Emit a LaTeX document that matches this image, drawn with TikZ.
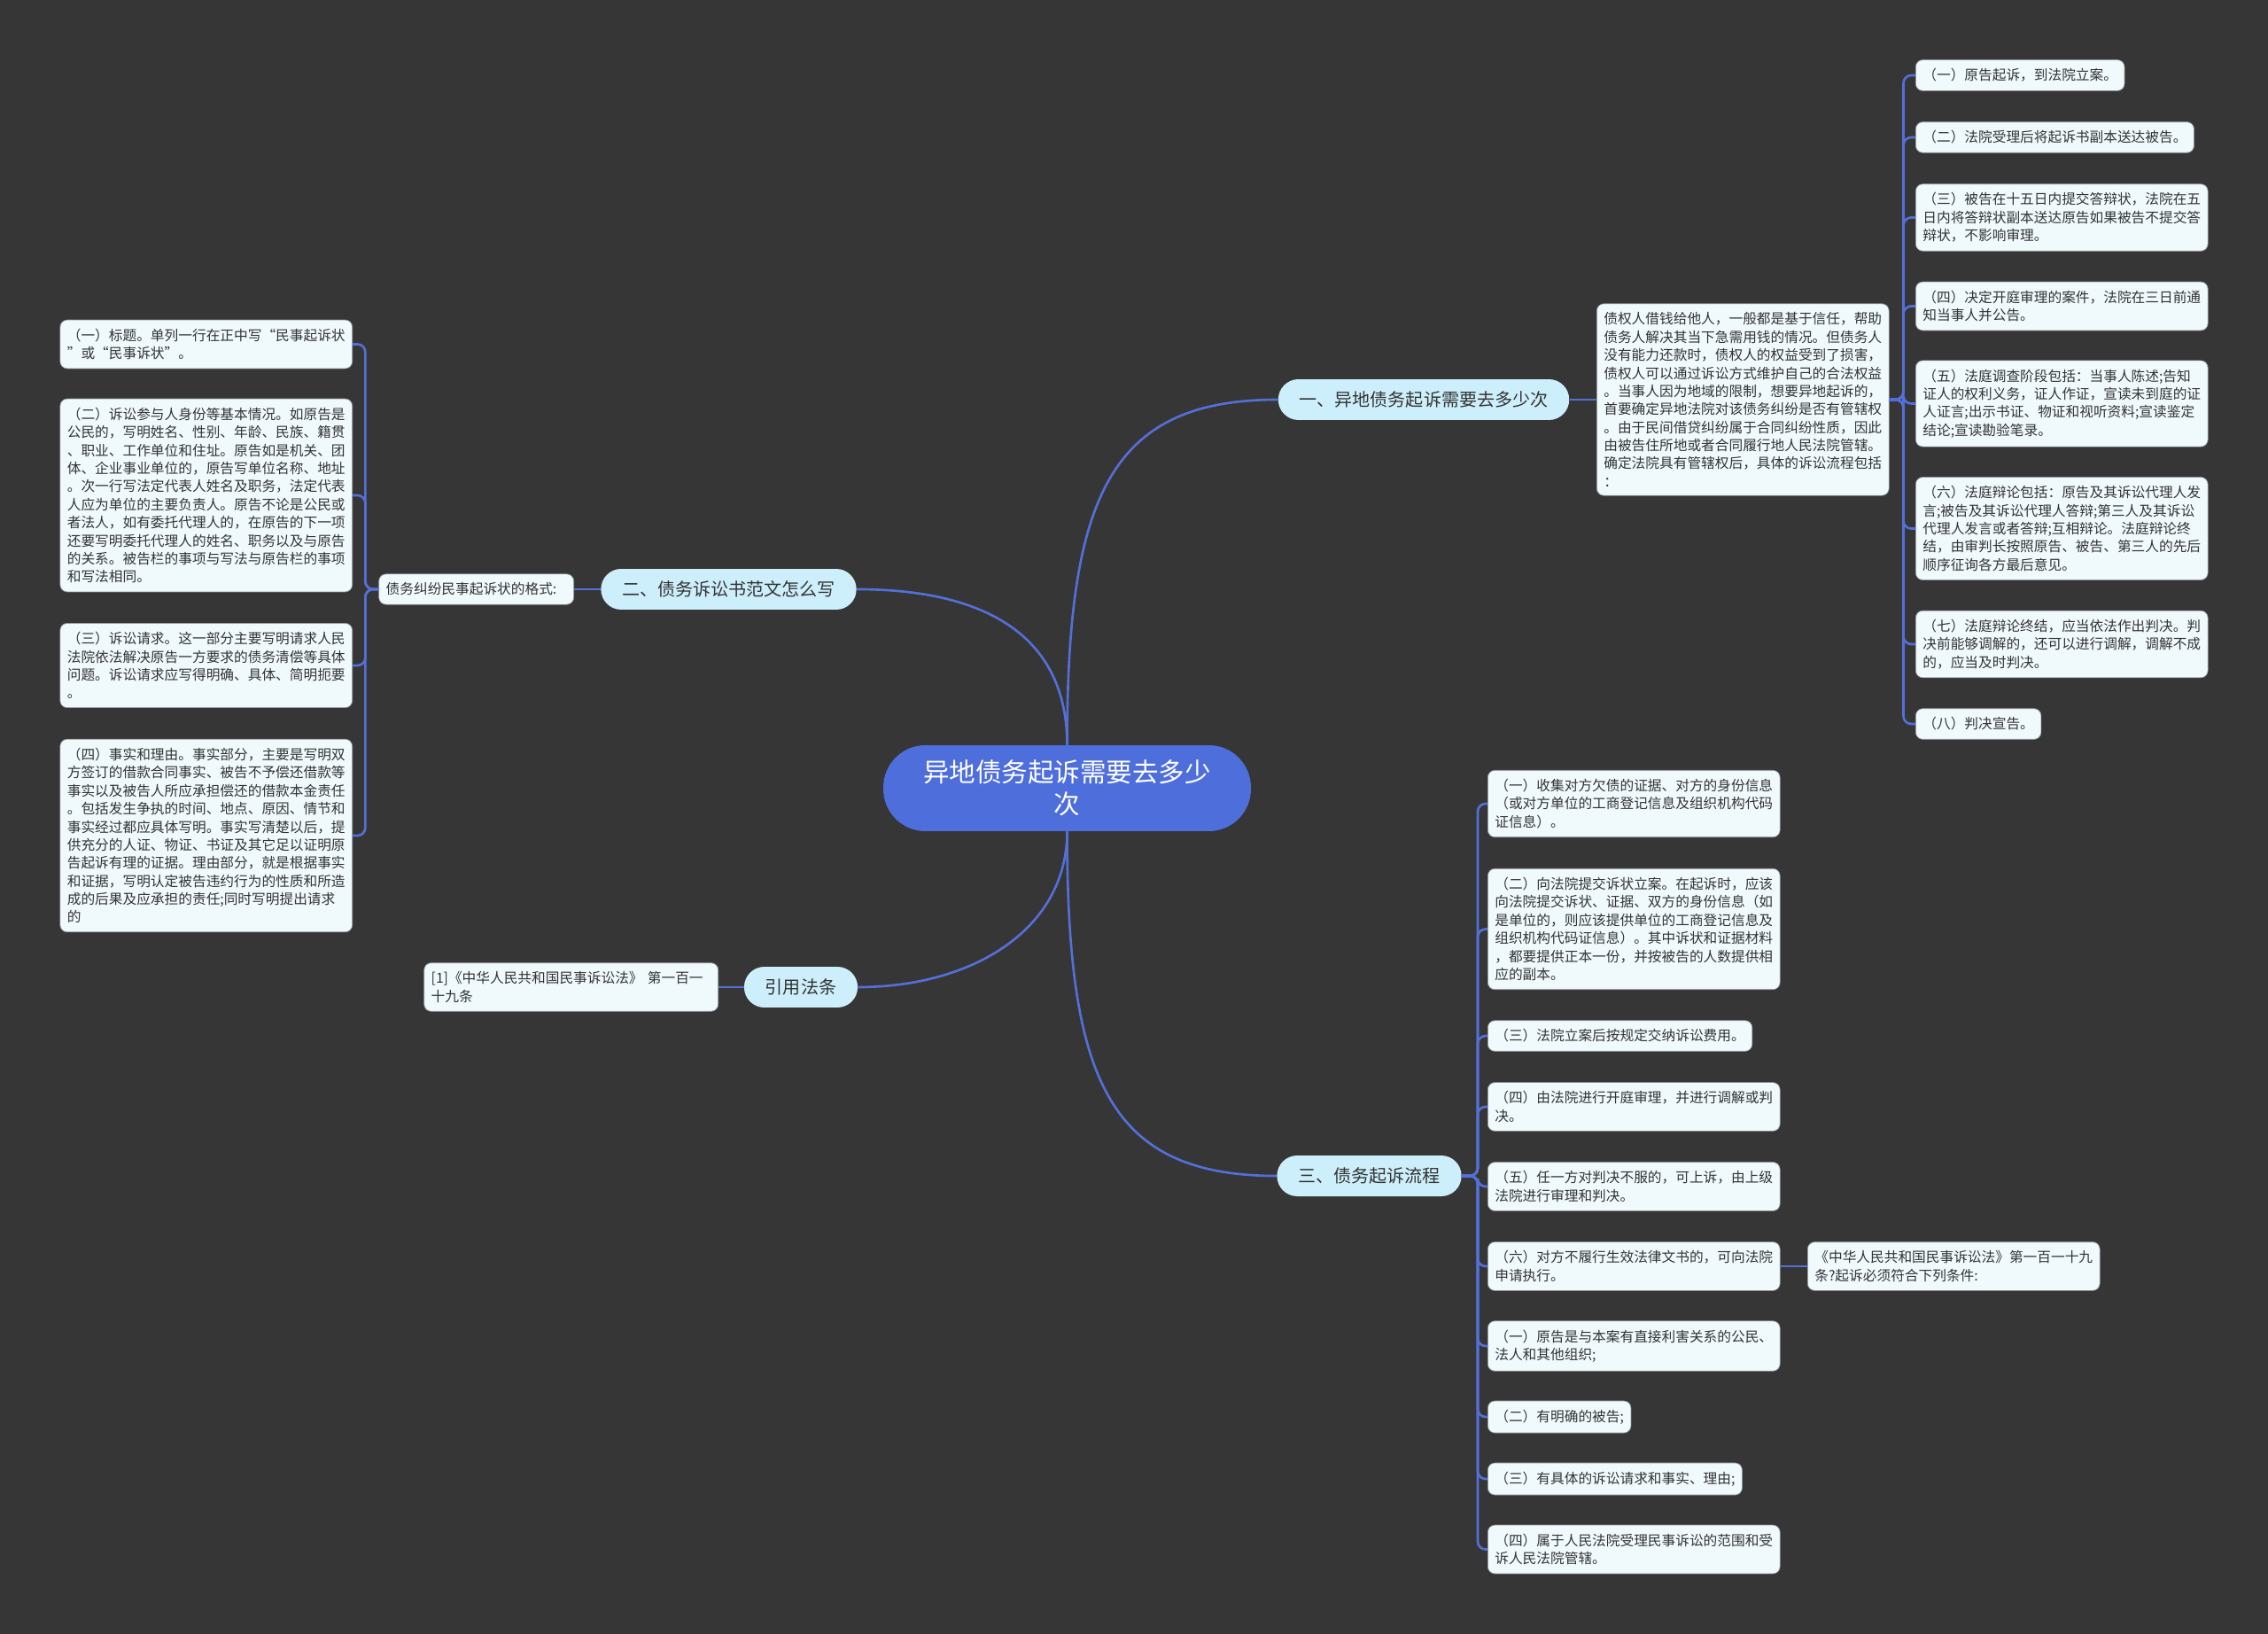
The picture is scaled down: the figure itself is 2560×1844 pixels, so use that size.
\documentclass[tikz,border=0pt]{standalone}
\usepackage{fontspec}
\setmainfont{Noto Sans CJK SC}
\usetikzlibrary{positioning}
\definecolor{bgc}{HTML}{363636}
\definecolor{edgec}{HTML}{5470D8}
\definecolor{rootc}{HTML}{4E6EDC}
\definecolor{mainc}{HTML}{CDEEFB}
\definecolor{leafc}{HTML}{F0FAFD}
\definecolor{linec}{HTML}{8C969C}
\definecolor{textc}{HTML}{333333}

\begin{document}
\begin{tikzpicture}[
  x=0.02cm, y=-0.02cm,
  root/.style={fill=rootc, text=white, rounded corners=27pt, minimum width=8.3cm,
    minimum height=1.94cm, align=center, font=\fontsize{16.8}{20.5}\selectfont},
  topic/.style={fill=mainc, text=textc, rounded corners=13pt, minimum height=0.92cm,
    inner xsep=0.48cm, font=\fontsize{11.4}{13}\selectfont},
  leaf/.style={draw=linec, line width=0.4pt, fill=leafc, text=textc, rounded corners=4.5pt,
    align=left, inner xsep=0.16cm, inner ysep=5.6pt, font=\fontsize{8.93}{11.6}\selectfont},
  link/.style={draw=edgec, line width=1.5pt, rounded corners=5pt}
]

\fill[bgc] (0,0) rectangle (2560,1844);
\useasboundingbox (0,0) rectangle (2560,1844);

% Root
\node[root] (root) at (1204.5,889.5) {异地债务起诉需要去多少\\次};

% Topics
\node[topic] (b1) at (1607,451) {一、异地债务起诉需要去多少次};
\node[topic] (b2) at (822.5,665) {二、债务诉讼书范文怎么写};
\node[topic] (b3) at (1545.5,1327) {三、债务起诉流程};
\node[topic] (b4) at (904,1114) {引用法条};

% Topic one
\node[leaf, anchor=west] (intro) at (1802,451) {债权人借钱给他人，一般都是基于信任，帮助\\债务人解决其当下急需用钱的情况。但债务人\\没有能力还款时，债权人的权益受到了损害，\\债权人可以通过诉讼方式维护自己的合法权益\\。当事人因为地域的限制，想要异地起诉的，\\首要确定异地法院对该债务纠纷是否有管辖权\\。由于民间借贷纠纷属于合同纠纷性质，因此\\由被告住所地或者合同履行地人民法院管辖。\\确定法院具有管辖权后，具体的诉讼流程包括\\：};
\node[leaf, anchor=west] (r1) at (2162,85) {（一）原告起诉，到法院立案。};
\node[leaf, anchor=west] (r2) at (2162,155) {（二）法院受理后将起诉书副本送达被告。};
\node[leaf, anchor=west] (r3) at (2162,245.5) {（三）被告在十五日内提交答辩状，法院在五\\日内将答辩状副本送达原告如果被告不提交答\\辩状，不影响审理。};
\node[leaf, anchor=west] (r4) at (2162,345.5) {（四）决定开庭审理的案件，法院在三日前通\\知当事人并公告。};
\node[leaf, anchor=west] (r5) at (2162,455.5) {（五）法庭调查阶段包括：当事人陈述;告知\\证人的权利义务，证人作证，宣读未到庭的证\\人证言;出示书证、物证和视听资料;宣读鉴定\\结论;宣读勘验笔录。};
\node[leaf, anchor=west] (r6) at (2162,596.5) {（六）法庭辩论包括：原告及其诉讼代理人发\\言;被告及其诉讼代理人答辩;第三人及其诉讼\\代理人发言或者答辩;互相辩论。法庭辩论终\\结，由审判长按照原告、被告、第三人的先后\\顺序征询各方最后意见。};
\node[leaf, anchor=west] (r7) at (2162,727) {（七）法庭辩论终结，应当依法作出判决。判\\决前能够调解的，还可以进行调解，调解不成\\的，应当及时判决。};
\node[leaf, anchor=west] (r8) at (2162,817) {（八）判决宣告。};

% Topic two
\node[leaf, anchor=east, text width=4.08cm] (fmt) at (648,665) {债务纠纷民事起诉状的格式:};
\node[leaf, anchor=east] (l1) at (398,388.5) {（一）标题。单列一行在正中写“民事起诉状\\”或“民事诉状”。};
\node[leaf, anchor=east] (l2) at (398,559) {（二）诉讼参与人身份等基本情况。如原告是\\公民的，写明姓名、性别、年龄、民族、籍贯\\、职业、工作单位和住址。原告如是机关、团\\体、企业事业单位的，原告写单位名称、地址\\。次一行写法定代表人姓名及职务，法定代表\\人应为单位的主要负责人。原告不论是公民或\\者法人，如有委托代理人的，在原告的下一项\\还要写明委托代理人的姓名、职务以及与原告\\的关系。被告栏的事项与写法与原告栏的事项\\和写法相同。};
\node[leaf, anchor=east] (l3) at (398,751) {（三）诉讼请求。这一部分主要写明请求人民\\法院依法解决原告一方要求的债务清偿等具体\\问题。诉讼请求应写得明确、具体、简明扼要\\。};
\node[leaf, anchor=east] (l4) at (398,943) {（四）事实和理由。事实部分，主要是写明双\\方签订的借款合同事实、被告不予偿还借款等\\事实以及被告人所应承担偿还的借款本金责任\\。包括发生争执的时间、地点、原因、情节和\\事实经过都应具体写明。事实写清楚以后，提\\供充分的人证、物证、书证及其它足以证明原\\告起诉有理的证据。理由部分，就是根据事实\\和证据，写明认定被告违约行为的性质和所造\\成的后果及应承担的责任;同时写明提出请求\\的};

% Cited law
\node[leaf, anchor=east, text width=6.32cm] (law) at (811,1114) {[1]《中华人民共和国民事诉讼法》 第一百一\\十九条};

% Topic three
\node[leaf, anchor=west] (s1) at (1679,907) {（一）收集对方欠债的证据、对方的身份信息\\（或对方单位的工商登记信息及组织机构代码\\证信息）。};
\node[leaf, anchor=west] (s2) at (1679,1048.5) {（二）向法院提交诉状立案。在起诉时，应该\\向法院提交诉状、证据、双方的身份信息（如\\是单位的，则应该提供单位的工商登记信息及\\组织机构代码证信息）。其中诉状和证据材料\\，都要提供正本一份，并按被告的人数提供相\\应的副本。};
\node[leaf, anchor=west] (s3) at (1679,1169) {（三）法院立案后按规定交纳诉讼费用。};
\node[leaf, anchor=west] (s4) at (1679,1249) {（四）由法院进行开庭审理，并进行调解或判\\决。};
\node[leaf, anchor=west] (s5) at (1679,1339) {（五）任一方对判决不服的，可上诉，由上级\\法院进行审理和判决。};
\node[leaf, anchor=west] (s6) at (1679,1429) {（六）对方不履行生效法律文书的，可向法院\\申请执行。};
\node[leaf, anchor=west] (cond) at (2040,1429) {《中华人民共和国民事诉讼法》第一百一十九\\条?起诉必须符合下列条件:};
\node[leaf, anchor=west] (s7) at (1679,1519) {（一）原告是与本案有直接利害关系的公民、\\法人和其他组织;};
\node[leaf, anchor=west] (s8) at (1679,1599) {（二）有明确的被告;};
\node[leaf, anchor=west] (s9) at (1679,1669) {（三）有具体的诉讼请求和事实、理由;};
\node[leaf, anchor=west] (s10) at (1679,1748.5) {（四）属于人民法院受理民事诉讼的范围和受\\诉人民法院管辖。};

% Root to topics
\draw[link] (root.north) .. controls +(0,-280) and +(-190,0) .. (b1.west);
\draw[link] (root.north) .. controls +(0,-120) and +(150,0) .. (b2.east);
\draw[link] (root.south) .. controls +(0,280) and +(-190,0) .. (b3.west);
\draw[link] (root.south) .. controls +(0,110) and +(130,0) .. (b4.east);

% Topic one links
\draw[link] (b1) -- (intro);
\draw[link] (intro.east) -- ++(16,0) |- (r1.west);
\draw[link] (intro.east) -- ++(16,0) |- (r2.west);
\draw[link] (intro.east) -- ++(16,0) |- (r3.west);
\draw[link] (intro.east) -- ++(16,0) |- (r4.west);
\draw[link] (intro.east) -- ++(16,0) |- (r5.west);
\draw[link] (intro.east) -- ++(16,0) |- (r6.west);
\draw[link] (intro.east) -- ++(16,0) |- (r7.west);
\draw[link] (intro.east) -- ++(16,0) |- (r8.west);

% Topic two links
\draw[link] (b2) -- (fmt);
\draw[link] (fmt.west) -- ++(-15,0) |- (l1.east);
\draw[link] (fmt.west) -- ++(-15,0) |- (l2.east);
\draw[link] (fmt.west) -- ++(-15,0) |- (l3.east);
\draw[link] (fmt.west) -- ++(-15,0) |- (l4.east);

% Cited law link
\draw[link] (b4) -- (law);

% Topic three links
\draw[link] (b3.east) -- ++(18,0) |- (s1.west);
\draw[link] (b3.east) -- ++(18,0) |- (s2.west);
\draw[link] (b3.east) -- ++(18,0) |- (s3.west);
\draw[link] (b3.east) -- ++(18,0) |- (s4.west);
\draw[link] (b3.east) -- ++(18,0) |- (s5.west);
\draw[link] (b3.east) -- ++(18,0) |- (s6.west);
\draw[link] (b3.east) -- ++(18,0) |- (s7.west);
\draw[link] (b3.east) -- ++(18,0) |- (s8.west);
\draw[link] (b3.east) -- ++(18,0) |- (s9.west);
\draw[link] (b3.east) -- ++(18,0) |- (s10.west);
\draw[link] (s6) -- (cond);

\end{tikzpicture}
\end{document}
